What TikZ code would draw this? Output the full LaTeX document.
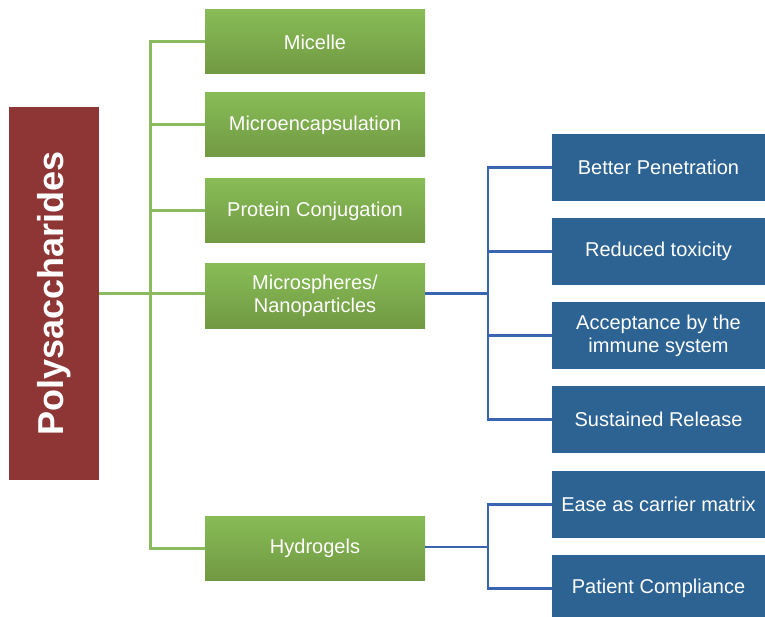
\documentclass[tikz,border=0pt]{standalone}
\usepackage{fontspec}
\setmainfont{Liberation Sans}
\definecolor{polyred}{HTML}{8E3536}
\definecolor{gtop}{HTML}{88BC56}
\definecolor{gbot}{HTML}{719943}
\definecolor{bfill}{HTML}{2D6393}
\definecolor{gln}{HTML}{8BBB5E}
\definecolor{bln}{HTML}{3864B0}
\begin{document}
\begin{tikzpicture}[x=1pt,y=-1pt,
  txt/.style={text=white,font=\fontsize{20}{23}\selectfont,align=center,inner sep=0pt},
  gbox/.style={txt,minimum width=220pt,minimum height=64pt,top color=gtop,bottom color=gbot,draw=none},
  bbox/.style={txt,minimum width=213pt,minimum height=67pt,fill=bfill,draw=none},
  gline/.style={draw=gln,line width=3pt},
  bline/.style={draw=bln,line width=2.8pt}]
\useasboundingbox (0,0) rectangle (765,617);
\node[fill=polyred,minimum width=90pt,minimum height=373pt,inner sep=0pt] (poly) at (54,293.5) {};
\node[rotate=90,text=white,font=\fontsize{36}{40}\selectfont\bfseries] (polyt) at (54,293.5) {Polysaccharides};
\coordinate (gj) at (150,293.5);
\coordinate (bj) at (488,293.5);
\coordinate (hj) at (488,547);
\draw[gline] (poly.east) -- (gj);
\node[gbox] (mic) at (315,42) {Micelle};
\node[gbox] (enc) at (315,125) {Microencapsulation};
\node[gbox] (prot) at (315,211) {Protein Conjugation};
\node[gbox] (nano) at (315,296) {Microspheres/\\Nanoparticles};
\node[gbox] (hyd) at (315,548) {Hydrogels};
\node[bbox] (pen) at (658.5,167.5) {Better Penetration};
\node[bbox] (tox) at (658.5,251.5) {Reduced toxicity};
\node[bbox] (imm) at (658.5,335.5) {Acceptance by the\\immune system};
\node[bbox] (sus) at (658.5,419.5) {Sustained Release};
\node[bbox] (eas) at (658.5,504.5) {Ease as carrier matrix};
\node[bbox] (pat) at (658.5,588.5) {Patient Compliance};
\draw[gline] (mic.west) -| (gj);
\draw[gline] (enc.west) -| (gj);
\draw[gline] (prot.west) -| (gj);
\draw[gline] (hyd.west) -| (gj);
\draw[gline] (gj) -- (gj -| nano.west);
\draw[bline] (nano.east |- bj) -- (bj);
\draw[bline] (pen.west) -| (bj);
\draw[bline] (tox.west) -| (bj);
\draw[bline] (imm.west) -| (bj);
\draw[bline] (sus.west) -| (bj);
\draw[bline] (hyd.east |- hj) -- (hj);
\draw[bline] (eas.west) -| (hj);
\draw[bline] (pat.west) -| (hj);
\end{tikzpicture}
\end{document}
